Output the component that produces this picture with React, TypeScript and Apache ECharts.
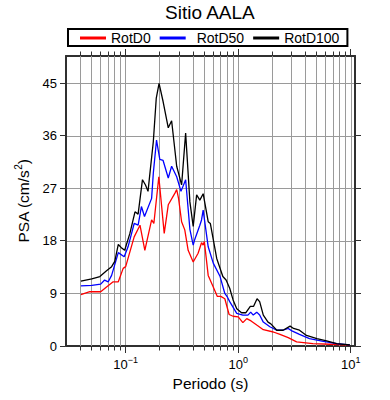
import React, { useEffect, useRef } from 'react';
import * as echarts from 'echarts';

const TITLE = 'Sitio AALA';
const X_NAME = 'Periodo (s)';
const SERIES_NAMES = ['RotD0', 'RotD50', 'RotD100'];
const SERIES_COLORS = ['#ff0000', '#0000ff', '#000000'];

const periodsD0 = [0.04, 0.048, 0.06, 0.0676, 0.0774, 0.086, 0.095, 0.1, 0.119, 0.134, 0.148, 0.17, 0.178, 0.197, 0.22, 0.239, 0.274, 0.284, 0.295, 0.314, 0.335, 0.359, 0.398, 0.44, 0.472, 0.488, 0.5, 0.541, 0.6, 0.652, 0.7, 0.76, 0.83, 0.9, 1.0, 1.1, 1.19, 1.3, 1.46, 1.67, 2.05, 2.35, 2.78, 3.3, 4.6, 6.5, 9.8];
const psaD0 = [8.8, 9.3, 9.3, 10.1, 11.0, 11.0, 13.3, 13.6, 18.7, 20.7, 16.4, 21.6, 21.0, 29.0, 19.3, 24.2, 26.2, 26.8, 25.3, 21.3, 19.9, 16.4, 14.4, 15.9, 17.7, 17.3, 17.9, 12.1, 10.1, 8.5, 8.5, 8.1, 5.4, 5.1, 5.0, 4.0, 4.7, 4.3, 3.6, 2.8, 2.4, 2.0, 1.44, 0.7, 0.4, 0.3, 0.17];

const periodsD50 = [0.04, 0.05, 0.06, 0.065, 0.07, 0.075, 0.086, 0.097, 0.105, 0.119, 0.129, 0.138, 0.147, 0.17, 0.176, 0.188, 0.201, 0.215, 0.239, 0.256, 0.284, 0.31, 0.341, 0.372, 0.398, 0.41, 0.456, 0.472, 0.488, 0.541, 0.6, 0.69, 0.76, 0.8, 0.84, 0.97, 1.1, 1.22, 1.29, 1.36, 1.46, 1.55, 1.67, 1.91, 2.2, 2.5, 2.78, 3.0, 3.5, 4.3, 5.7, 7.5, 9.8];
const psaD50 = [10.3, 10.4, 10.6, 11.3, 11.0, 12.1, 16.0, 15.3, 17.0, 21.0, 20.7, 23.9, 22.2, 25.3, 29.6, 35.3, 32.0, 31.8, 28.8, 30.8, 29.0, 26.5, 28.5, 20.0, 17.3, 18.2, 20.7, 21.6, 23.3, 17.0, 14.2, 11.9, 9.0, 8.4, 7.6, 5.6, 5.3, 5.3, 5.8, 5.3, 5.8, 5.3, 4.1, 3.3, 2.7, 2.7, 3.0, 2.6, 2.0, 1.27, 0.8, 0.4, 0.2];

const periodsD100 = [0.04, 0.05, 0.059, 0.0676, 0.075, 0.08, 0.086, 0.091, 0.098, 0.109, 0.121, 0.129, 0.141, 0.15, 0.158, 0.164, 0.176, 0.187, 0.198, 0.215, 0.239, 0.256, 0.284, 0.314, 0.341, 0.372, 0.398, 0.427, 0.456, 0.488, 0.541, 0.565, 0.644, 0.73, 0.78, 0.84, 0.9, 0.97, 1.07, 1.17, 1.28, 1.37, 1.47, 1.55, 1.67, 1.84, 1.95, 2.2, 2.5, 2.89, 3.1, 3.5, 4.04, 5.0, 6.1, 7.5, 9.8];
const psaD100 = [11.1, 11.5, 11.9, 12.9, 13.6, 14.5, 17.4, 16.9, 16.4, 19.3, 23.0, 22.6, 28.5, 27.6, 26.5, 29.5, 35.0, 42.5, 45.0, 41.9, 37.4, 38.6, 30.8, 27.6, 36.5, 24.7, 20.5, 25.9, 25.0, 26.1, 21.3, 21.0, 15.0, 11.9, 11.3, 9.9, 7.9, 6.4, 5.7, 5.7, 6.8, 6.8, 8.1, 7.6, 5.3, 4.1, 3.8, 2.7, 2.7, 3.4, 3.0, 2.7, 1.8, 1.27, 0.86, 0.4, 0.17];

const xMajorTicks = [0.1, 1, 10];
const xMinorTicks = [0.04, 0.05, 0.06, 0.07, 0.08, 0.09, 0.2, 0.3, 0.4, 0.5, 0.6, 0.7, 0.8, 0.9, 2, 3, 4, 5, 6, 7, 8, 9];
const yTicks = [0, 9, 18, 27, 36, 45];

const X_MIN = 0.0295;
const X_MAX = 10.9;
const Y_MIN = 0;
const Y_MAX = 49.7;
const Y_INTERVAL = 9;

const FONT = '"Liberation Sans", Arial, Helvetica, sans-serif';
const FRAME = '#303030';
const GRID = '#9a9a9a';

export default function App() {
  const ref = useRef<HTMLDivElement>(null);

  useEffect(() => {
    if (!ref.current) return;
    const chart = echarts.init(ref.current, undefined, { renderer: 'svg' });

    const lineSeries = [
      [periodsD0, psaD0],
      [periodsD50, psaD50],
      [periodsD100, psaD100],
    ].map(([ps, vs], i) => ({
      type: 'line',
      name: SERIES_NAMES[i],
      data: ps.map((p: number, k: number) => [p, vs[k]]),
      symbol: 'none',
      color: SERIES_COLORS[i],
      lineStyle: { color: SERIES_COLORS[i], width: 1.3 },
      z: 5,
      clip: true,
    }));

    const xTickData = [
      ...xMajorTicks.map((v) => [v, 0, 1]),
      ...xMinorTicks.map((v) => [v, 0, 0]),
    ];
    const yTickData = yTicks.map((v) => [X_MIN, v]);

    const snap = (n: number) => Math.round(n - 0.5) + 0.5;

    const option: any = {
      animation: false,
      backgroundColor: '#ffffff',
      title: {
        text: TITLE,
        left: 165,
        top: 3,
        padding: 0,
        textStyle: { fontFamily: FONT, fontSize: 19, fontWeight: 'normal', color: '#000' },
      },
      legend: {
        data: [
          { name: SERIES_NAMES[0] },
          { name: SERIES_NAMES[1], textStyle: { padding: [0, 0, 0, 6] } },
          { name: SERIES_NAMES[2] },
        ],
        left: 68,
        top: 29,
        icon: 'rect',
        itemWidth: 26,
        itemHeight: 3,
        itemGap: 9,
        padding: [2, 8, 1, 12],
        borderColor: '#000',
        borderWidth: 2,
        borderRadius: 0,
        textStyle: { fontFamily: FONT, fontSize: 14, color: '#000' },
      },
      grid: { left: 66, right: 35, top: 56, bottom: 54, containLabel: false },
      xAxis: [
        {
          type: 'log',
          logBase: 10,
          min: X_MIN,
          max: X_MAX,
          name: X_NAME,
          nameLocation: 'middle',
          nameGap: 27,
          nameTextStyle: { fontFamily: FONT, fontSize: 15.5, color: '#000' },
          axisLine: { show: true, onZero: false, lineStyle: { color: FRAME, width: 2 } },
          axisTick: { show: false },
          splitLine: { show: true, lineStyle: { color: GRID, width: 1 } },
          axisLabel: {
            showMinLabel: false,
            showMaxLabel: false,
            margin: 9,
            formatter: (v: number) => {
              const e = Math.round(Math.log10(v));
              return `{b|10}{s|${e < 0 ? '\u2212' + -e : e}}`;
            },
            rich: {
              b: { fontFamily: FONT, fontSize: 13, lineHeight: 16, color: '#000', verticalAlign: 'bottom' },
              s: { fontFamily: FONT, fontSize: 9, lineHeight: 9, color: '#000', verticalAlign: 'top' },
            },
          },
        },
        {
          type: 'log',
          logBase: 10,
          min: X_MIN,
          max: X_MAX,
          position: 'top',
          axisLine: { show: true, onZero: false, lineStyle: { color: FRAME, width: 2 } },
          axisTick: { show: false },
          axisLabel: { show: false },
          splitLine: { show: false },
        },
      ],
      yAxis: [
        {
          type: 'value',
          min: Y_MIN,
          max: Y_MAX,
          interval: Y_INTERVAL,
          name: '{a|PSA (cm/s}{s|2}{a|)}',
          nameLocation: 'middle',
          nameGap: 28,
          nameTextStyle: {
            rich: {
              a: { fontFamily: FONT, fontSize: 15.5, color: '#000', lineHeight: 18, verticalAlign: 'bottom' },
              s: { fontFamily: FONT, fontSize: 10, color: '#000', lineHeight: 10, verticalAlign: 'top' },
            },
          },
          axisLine: { show: true, onZero: false, lineStyle: { color: FRAME, width: 2 } },
          axisTick: { show: false },
          splitLine: { show: true, lineStyle: { color: GRID, width: 1 } },
          axisLabel: {
            showMaxLabel: false,
            margin: 9,
            fontFamily: FONT,
            fontSize: 13,
            color: '#000',
          },
        },
        {
          type: 'value',
          min: Y_MIN,
          max: Y_MAX,
          interval: Y_INTERVAL,
          position: 'right',
          axisLine: { show: true, onZero: false, lineStyle: { color: FRAME, width: 2 } },
          axisTick: { show: false },
          axisLabel: { show: false },
          splitLine: { show: false },
        },
      ],
      series: [
        {
          type: 'custom',
          name: 'xticks',
          coordinateSystem: 'cartesian2d',
          xAxisIndex: 0,
          yAxisIndex: 0,
          data: xTickData,
          encode: { x: 0, y: 1 },
          clip: false,
          silent: true,
          z: 1,
          renderItem: (params: any, api: any) => {
            const v = api.value(0);
            const major = api.value(2) === 1;
            const b = api.coord([v, Y_MIN]);
            const t = api.coord([v, Y_MAX]);
            const x = snap(b[0]);
            const len = major ? 6 : 3.5;
            const children: any[] = [];
            if (!major) {
              children.push({
                type: 'line',
                shape: { x1: x, y1: b[1], x2: x, y2: t[1] },
                style: { stroke: GRID, lineWidth: 1 },
              });
            }
            children.push({
              type: 'line',
              shape: { x1: x, y1: b[1] + 1, x2: x, y2: b[1] + 1 + len },
              style: { stroke: FRAME, lineWidth: 1 },
            });
            children.push({
              type: 'line',
              shape: { x1: x, y1: t[1] - 1, x2: x, y2: t[1] - 1 - len },
              style: { stroke: FRAME, lineWidth: 1 },
            });
            return { type: 'group', children };
          },
        },
        {
          type: 'custom',
          name: 'yticks',
          coordinateSystem: 'cartesian2d',
          xAxisIndex: 0,
          yAxisIndex: 0,
          data: yTickData,
          encode: { x: 0, y: 1 },
          clip: false,
          silent: true,
          z: 1,
          renderItem: (params: any, api: any) => {
            const v = api.value(1);
            const l = api.coord([X_MIN, v]);
            const r = api.coord([X_MAX, v]);
            const y = snap(l[1]);
            return {
              type: 'group',
              children: [
                { type: 'line', shape: { x1: l[0] - 1, y1: y, x2: l[0] - 6, y2: y }, style: { stroke: FRAME, lineWidth: 1 } },
                { type: 'line', shape: { x1: r[0] + 1, y1: y, x2: r[0] + 6, y2: y }, style: { stroke: FRAME, lineWidth: 1 } },
              ],
            };
          },
        },
        ...lineSeries,
      ],
    };

    chart.setOption(option);
    return () => chart.dispose();
  }, []);

  return (
    <div
      ref={ref}
      style={{ position: 'fixed', left: 0, top: 0, width: 390, height: 400, background: '#fff' }}
    />
  );
}
